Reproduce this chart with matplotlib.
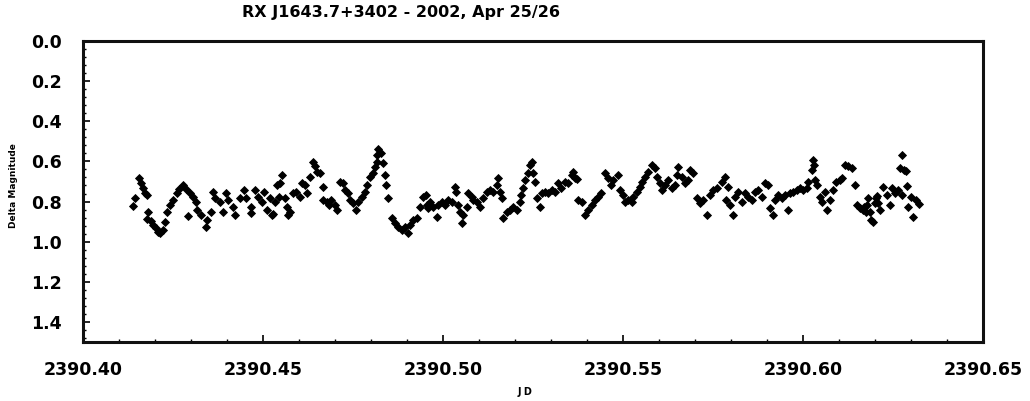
import matplotlib
matplotlib.use("Agg")
import matplotlib.pyplot as plt
from matplotlib.ticker import MultipleLocator, FormatStrFormatter

title = "RX J1643.7+3402 - 2002, Apr 25/26"
xlabel = "J D"
ylabel = "Delta Magnitude"

jd = [
    2390.4140, 2390.4144, 2390.4156, 2390.4160, 2390.4166, 2390.4172, 2390.4177, 2390.4179,
    2390.4181, 2390.4188, 2390.4195, 2390.4203, 2390.4209, 2390.4214, 2390.4221, 2390.4228,
    2390.4232, 2390.4242, 2390.4251, 2390.4260, 2390.4267, 2390.4279, 2390.4286, 2390.4293,
    2390.4297, 2390.4305, 2390.4314, 2390.4317, 2390.4327, 2390.4342, 2390.4345, 2390.4355,
    2390.4362, 2390.4367, 2390.4381, 2390.4390, 2390.4397, 2390.4404, 2390.4418, 2390.4422,
    2390.4436, 2390.4447, 2390.4454, 2390.4466, 2390.4468, 2390.4478, 2390.4487, 2390.4496,
    2390.4503, 2390.4510, 2390.4519, 2390.4524, 2390.4529, 2390.4533, 2390.4538, 2390.4545,
    2390.4547, 2390.4552, 2390.4561, 2390.4566, 2390.4570, 2390.4575, 2390.4584, 2390.4593,
    2390.4603, 2390.4607, 2390.4617, 2390.4621, 2390.4631, 2390.4640, 2390.4644, 2390.4649,
    2390.4658, 2390.4666, 2390.4667, 2390.4677, 2390.4682, 2390.4690, 2390.4700, 2390.4705,
    2390.4714, 2390.4723, 2390.4728, 2390.4737, 2390.4742, 2390.4751, 2390.4758, 2390.4764,
    2390.4774, 2390.4783, 2390.4788, 2390.4797, 2390.4806, 2390.4811, 2390.4816, 2390.4818,
    2390.4820, 2390.4829, 2390.4834, 2390.4839, 2390.4843, 2390.4848, 2390.4857, 2390.4867,
    2390.4876, 2390.4885, 2390.4894, 2390.4903, 2390.4908, 2390.4918, 2390.4927, 2390.4936,
    2390.4945, 2390.4954, 2390.4956, 2390.4959, 2390.4964, 2390.4973, 2390.4982, 2390.4987,
    2390.4996, 2390.5006, 2390.5015, 2390.5024, 2390.5033, 2390.5037, 2390.5043, 2390.5047,
    2390.5052, 2390.5056, 2390.5066, 2390.5070, 2390.5080, 2390.5084, 2390.5094, 2390.5103,
    2390.5112, 2390.5121, 2390.5131, 2390.5140, 2390.5149, 2390.5153, 2390.5158, 2390.5163,
    2390.5168, 2390.5177, 2390.5186, 2390.5195, 2390.5205, 2390.5214, 2390.5218, 2390.5223,
    2390.5228, 2390.5237, 2390.5242, 2390.5246, 2390.5251, 2390.5256, 2390.5260, 2390.5269,
    2390.5274, 2390.5283, 2390.5292, 2390.5302, 2390.5311, 2390.5320, 2390.5329, 2390.5339,
    2390.5348, 2390.5357, 2390.5362, 2390.5367, 2390.5372, 2390.5376, 2390.5385, 2390.5394,
    2390.5404, 2390.5413, 2390.5422, 2390.5431, 2390.5440, 2390.5450, 2390.5459, 2390.5468,
    2390.5473, 2390.5487, 2390.5492, 2390.5501, 2390.5506, 2390.5515, 2390.5524, 2390.5529,
    2390.5538, 2390.5547, 2390.5552, 2390.5561, 2390.5570, 2390.5580, 2390.5589, 2390.5594,
    2390.5603, 2390.5608, 2390.5617, 2390.5626, 2390.5635, 2390.5644, 2390.5649, 2390.5654,
    2390.5663, 2390.5672, 2390.5681, 2390.5686, 2390.5695, 2390.5705, 2390.5714, 2390.5723,
    2390.5732, 2390.5742, 2390.5751, 2390.5760, 2390.5774, 2390.5783, 2390.5785, 2390.5792,
    2390.5797, 2390.5806, 2390.5811, 2390.5820, 2390.5830, 2390.5839, 2390.5848, 2390.5857,
    2390.5867, 2390.5876, 2390.5885, 2390.5894, 2390.5904, 2390.5908, 2390.5918, 2390.5922,
    2390.5931, 2390.5941, 2390.5950, 2390.5959, 2390.5964, 2390.5973, 2390.5982, 2390.5992,
    2390.6001, 2390.6010, 2390.6015, 2390.6024, 2390.6029, 2390.6031, 2390.6033, 2390.6038,
    2390.6047, 2390.6052, 2390.6061, 2390.6066, 2390.6075, 2390.6084, 2390.6093, 2390.6103,
    2390.6107, 2390.6117, 2390.6126, 2390.6135, 2390.6144, 2390.6149, 2390.6158, 2390.6167,
    2390.6170, 2390.6176, 2390.6179, 2390.6181, 2390.6186, 2390.6190, 2390.6195, 2390.6199,
    2390.6202, 2390.6205, 2390.6209, 2390.6214, 2390.6223, 2390.6232, 2390.6242, 2390.6246,
    2390.6256, 2390.6265, 2390.6269, 2390.6274, 2390.6276, 2390.6281, 2390.6287, 2390.6290,
    2390.6292, 2390.6301, 2390.6306, 2390.6315, 2390.6322,
]

dmag = [
    0.822, 0.784, 0.684, 0.709, 0.734, 0.756, 0.888, 0.767,
    0.851, 0.895, 0.917, 0.933, 0.950, 0.958, 0.942, 0.900,
    0.851, 0.817, 0.792, 0.759, 0.739, 0.717, 0.739, 0.872,
    0.756, 0.776, 0.800, 0.842, 0.867, 0.925, 0.892, 0.851,
    0.751, 0.784, 0.800, 0.851, 0.759, 0.792, 0.825, 0.867,
    0.784, 0.742, 0.784, 0.825, 0.859, 0.742, 0.776, 0.800,
    0.751, 0.842, 0.784, 0.867, 0.860, 0.800, 0.717, 0.776,
    0.709, 0.668, 0.784, 0.825, 0.867, 0.851, 0.759, 0.751,
    0.776, 0.709, 0.717, 0.759, 0.676, 0.601, 0.623, 0.651,
    0.659, 0.726, 0.792, 0.800, 0.817, 0.792, 0.817, 0.842,
    0.701, 0.709, 0.742, 0.759, 0.792, 0.809, 0.842, 0.800,
    0.776, 0.751, 0.717, 0.676, 0.659, 0.626, 0.601, 0.568,
    0.540, 0.560, 0.609, 0.668, 0.717, 0.784, 0.884, 0.909,
    0.925, 0.942, 0.925, 0.958, 0.917, 0.892, 0.884, 0.825,
    0.776, 0.767, 0.817, 0.834, 0.800, 0.825, 0.875, 0.817,
    0.800, 0.817, 0.792, 0.800, 0.726, 0.751, 0.817, 0.851,
    0.909, 0.867, 0.825, 0.759, 0.776, 0.792, 0.800, 0.825,
    0.784, 0.751, 0.742, 0.751, 0.717, 0.684, 0.751, 0.784,
    0.884, 0.851, 0.842, 0.825, 0.842, 0.800, 0.767, 0.734,
    0.693, 0.659, 0.618, 0.601, 0.659, 0.701, 0.784, 0.825,
    0.759, 0.751, 0.759, 0.742, 0.751, 0.709, 0.734, 0.701,
    0.709, 0.668, 0.651, 0.684, 0.690, 0.792, 0.800, 0.867,
    0.842, 0.817, 0.792, 0.776, 0.759, 0.659, 0.684, 0.717,
    0.693, 0.668, 0.742, 0.767, 0.800, 0.792, 0.800, 0.776,
    0.751, 0.726, 0.701, 0.676, 0.651, 0.618, 0.634, 0.676,
    0.709, 0.742, 0.717, 0.693, 0.734, 0.717, 0.668, 0.626,
    0.676, 0.709, 0.693, 0.643, 0.659, 0.784, 0.809, 0.792,
    0.867, 0.767, 0.742, 0.734, 0.701, 0.676, 0.792, 0.726,
    0.817, 0.867, 0.776, 0.751, 0.800, 0.759, 0.776, 0.792,
    0.751, 0.742, 0.776, 0.709, 0.717, 0.834, 0.867, 0.792,
    0.767, 0.784, 0.767, 0.842, 0.759, 0.751, 0.742, 0.734,
    0.742, 0.734, 0.701, 0.643, 0.593, 0.618, 0.693, 0.717,
    0.776, 0.800, 0.751, 0.842, 0.792, 0.742, 0.701, 0.693,
    0.684, 0.618, 0.623, 0.634, 0.717, 0.817, 0.834, 0.842,
    0.825, 0.851, 0.817, 0.784, 0.851, 0.892, 0.900, 0.809,
    0.784, 0.770, 0.809, 0.842, 0.726, 0.767, 0.817, 0.734,
    0.759, 0.742, 0.634, 0.767, 0.568, 0.643, 0.646, 0.723,
    0.825, 0.776, 0.875, 0.792, 0.812,
]

x_range = (2390.40, 2390.65)
y_range = (1.5, 0.0)
x_major = 0.05
x_minor = 0.01
y_major = 0.2
y_minor = 0.04

fig = plt.figure(figsize=(10.30, 4.01), dpi=100)
ax = fig.add_axes([83 / 1030, 1 - 342 / 401, 900 / 1030, 301 / 401])

ax.plot(jd, dmag, linestyle="none", marker="D", markersize=3.9,
        markerfacecolor="black", markeredgecolor="black", markeredgewidth=0.6)

ax.set_xlim(*x_range)
ax.set_ylim(*y_range)
ax.xaxis.set_major_locator(MultipleLocator(x_major))
ax.xaxis.set_minor_locator(MultipleLocator(x_minor))
ax.yaxis.set_major_locator(MultipleLocator(y_major))
ax.yaxis.set_minor_locator(MultipleLocator(y_minor))
ax.xaxis.set_major_formatter(FormatStrFormatter("%.2f"))
ax.yaxis.set_major_formatter(FormatStrFormatter("%.1f"))

for s in ax.spines.values():
    s.set_linewidth(2.2)
    s.set_color("#111111")

ax.tick_params(axis="both", which="major", direction="in", length=5, width=1.2,
               labelsize=12.5, pad=14, colors="black")
ax.tick_params(axis="both", which="minor", direction="in", length=2.5, width=1.0)
ax.tick_params(axis="y", which="major", pad=15)
for lab in ax.get_xticklabels() + ax.get_yticklabels():
    lab.set_fontweight("bold")

fig.text(401 / 1030, 1 - 13 / 401, title, ha="center", va="center",
         fontsize=11.5, fontweight="bold")
fig.text(525 / 1030, 1 - 392 / 401, xlabel, ha="center", va="center",
         fontsize=7, fontweight="bold")
fig.text(14 / 1030, 1 - 186 / 401, ylabel, ha="center", va="center",
         rotation=90, fontsize=6.5, fontweight="bold")

fig.savefig("out.png", dpi=100, facecolor="white")
